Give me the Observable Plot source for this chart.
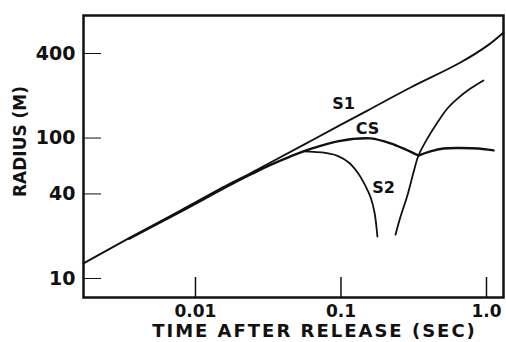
<!DOCTYPE html>
<html>
<head>
<meta charset="utf-8">
<script src="https://cdn.jsdelivr.net/npm/d3@7"></script>
<script src="https://cdn.jsdelivr.net/npm/@observablehq/plot@0.6"></script>
<style>
  html, body { margin: 0; padding: 0; background: #fff; }
  #chart { width: 506px; height: 342px; overflow: hidden; }
</style>
</head>
<body>
<div id="chart"></div>
<script>
// Time after release (s) and radius (m)
const s1T = [0.0017, 0.00357, 0.00789, 0.0174, 0.0239, 0.0328, 0.0647, 0.152, 0.301, 0.662, 1.02, 1.31];
const s1R = [12.8, 19.6, 30.5, 47.5, 56.1, 67.0, 97.7, 157, 229, 345, 457, 565];

// CS up to the junction with S2, then CS beyond it
const csT = [0.0035, 0.00789, 0.0174, 0.0239, 0.0328, 0.045, 0.0552, 0.0723, 0.0946, 0.120, 0.160, 0.219, 0.277, 0.341];
const csR = [19.2, 29.9, 46.5, 55.0, 64.5, 74.0, 80.4, 87.9, 94.6, 98.5, 99.4, 91.6, 83.0, 75.1];
const cs2T = [0.341, 0.412, 0.506, 0.662, 0.881, 1.12];
const cs2R = [75.1, 80.4, 84.3, 85.0, 84.3, 81.7];

// S2: falling branch and rising branch
const s2aT = [0.0552, 0.0647, 0.0782, 0.0946, 0.113, 0.130, 0.147, 0.160, 0.170, 0.178];
const s2aR = [80.4, 79.6, 78.3, 74.6, 67.0, 56.9, 45.9, 37.7, 29.5, 19.9];
const s2bT = [0.237, 0.257, 0.286, 0.315, 0.341, 0.393, 0.460, 0.540, 0.632, 0.776, 0.953];
const s2bR = [20.5, 27.7, 39.0, 56.9, 75.1, 99.4, 129, 163, 191, 225, 257];

const curveLabels = ["S1", "CS", "S2"];
const labelT = [0.104, 0.152, 0.196];
const labelR = [176, 117, 44.5];

const xTicks = [0.01, 0.1, 1];
const xTickLabels = ["0.01", "0.1", "1.0"];
const yTicks = [10, 40, 100, 400];
const yTickLabels = ["10", "40", "100", "400"];

const xTitle = "TIME AFTER RELEASE (SEC)";
const yTitle = "RADIUS (M)";

const toRows = (T, R) => T.map((t, i) => ({t, r: R[i]}));
const s1Rows = toRows(s1T, s1R);
const csRows = toRows(csT, csR);
const cs2Rows = toRows(cs2T, cs2R);
const s2aRows = toRows(s2aT, s2aR);
const s2bRows = toRows(s2bT, s2bR);
const labelRows = curveLabels.map((n, i) => ({n, t: labelT[i], r: labelR[i]}));

const font = "'DejaVu Sans', sans-serif";
const ink = "#111";
const curve = "catmull-rom";

const chart = Plot.plot({
  width: 506,
  height: 342,
  marginLeft: 83,
  marginTop: 15,
  marginRight: 3,
  marginBottom: 45,
  style: {fontFamily: font, fontWeight: "bold", color: ink, background: "#fff"},
  x: {type: "log", domain: [0.0017, 1.309]},
  y: {type: "log", domain: [7.32, 746]},
  marks: [
    Plot.axisX({ticks: xTicks, tickSize: 0, tickPadding: 7, fontSize: 17,
      tickFormat: d => xTickLabels[xTicks.indexOf(d)], label: null}),
    Plot.axisX({ticks: xTicks, tickSize: 20, dy: -20, text: null, label: null, strokeWidth: 1.5}),
    Plot.axisY({ticks: yTicks, tickSize: 0, tickPadding: 8, fontSize: 19,
      tickFormat: d => yTickLabels[yTicks.indexOf(d)], label: null}),
    Plot.axisY({ticks: yTicks, tickSize: 18, dx: 18, text: null, label: null, strokeWidth: 1}),
    Plot.line(s1Rows, {x: "t", y: "r", curve, stroke: ink, strokeWidth: 1.9}),
    Plot.line(csRows, {x: "t", y: "r", curve, stroke: ink, strokeWidth: 2.4}),
    Plot.line(cs2Rows, {x: "t", y: "r", curve, stroke: ink, strokeWidth: 2.4}),
    Plot.line(s2aRows, {x: "t", y: "r", curve, stroke: ink, strokeWidth: 1.8}),
    Plot.line(s2bRows, {x: "t", y: "r", curve, stroke: ink, strokeWidth: 1.8}),
    Plot.text(labelRows, {x: "t", y: "r", text: "n", fontSize: 16, fill: ink}),
    Plot.text([xTitle], {frameAnchor: "bottom", textAnchor: "middle", lineAnchor: "middle",
      dx: 21, dy: 34, fontSize: 18, fill: ink, className: "xtitle"}),
    Plot.text([yTitle], {frameAnchor: "left", textAnchor: "middle", lineAnchor: "middle",
      dx: -63, dy: -15, rotate: -90, fontSize: 17, fill: ink}),
    Plot.frame({stroke: ink, strokeWidth: 2.5})
  ]
});
d3.select(chart).selectAll("text")
  .filter(function () { return this.textContent === xTitle; })
  .attr("letter-spacing", "2px");
document.getElementById("chart").appendChild(chart);
</script>
</body>
</html>
